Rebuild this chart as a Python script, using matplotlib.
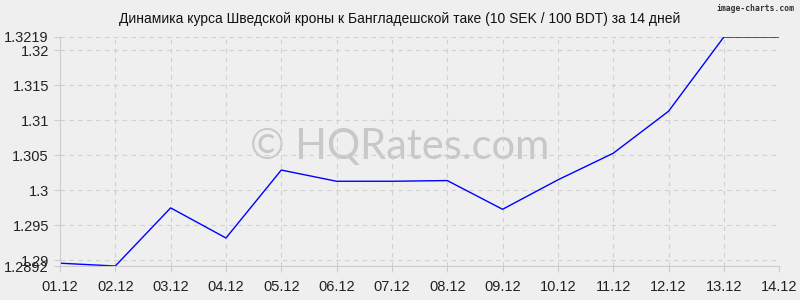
import matplotlib.pyplot as plt

# Data
dates = ['01.12', '02.12', '03.12', '04.12', '05.12', '06.12', '07.12',
         '08.12', '09.12', '10.12', '11.12', '12.12', '13.12', '14.12']
rates = [1.2896, 1.2892, 1.2975, 1.2932, 1.3029, 1.3013, 1.3013,
         1.3014, 1.2973, 1.3015, 1.3053, 1.3113, 1.3219, 1.3219]
ytick_vals = [1.2892, 1.29, 1.295, 1.3, 1.305, 1.31, 1.315, 1.32, 1.3219]
ytick_labels = ['1.2892', '1.29', '1.295', '1.3', '1.305', '1.31', '1.315', '1.32', '1.3219']

plt.rcParams['font.family'] = ['Liberation Sans', 'DejaVu Sans']
bg = '#efefef'

fig = plt.figure(figsize=(8, 3), dpi=100, facecolor=bg)
ax = fig.add_axes([0.075, 0.1133, 0.899, 0.7634], facecolor=bg)

x = list(range(len(dates)))
ax.plot(x, rates, color='#0000ff', linewidth=1)

ax.set_xlim(0, len(dates) - 1)
ax.set_ylim(min(ytick_vals), max(ytick_vals))
ax.set_xticks(x)
ax.set_xticklabels(dates, fontsize=10.5, color='#222222')
ax.set_yticks(ytick_vals)
ax.set_yticklabels(ytick_labels, fontsize=10.5, color='#222222')
ax.tick_params(length=4, color='#cccccc')
ax.tick_params(axis='x', pad=6)
ax.tick_params(axis='y', pad=4)

ax.grid(True, color='#d0d0d0', linestyle=(0, (4, 4)), linewidth=0.8)
for s in ['top', 'right']:
    ax.spines[s].set_visible(False)
for s in ['left', 'bottom']:
    ax.spines[s].set_color('#cccccc')
    ax.spines[s].set_linewidth(0.8)

fig.text(0.5, 0.935, 'Динамика курса Шведской кроны к Бангладешской таке (10 SEK / 100 BDT) за 14 дней',
         ha='center', va='center', fontsize=10, color='#111111')
fig.text(0.993, 0.972, 'image-charts.com', ha='right', va='center', fontsize=5.8,
         color='#333333', family='DejaVu Sans Mono', fontweight='bold')
ax.text(0.473, 0.52, '© HQRates.com', transform=ax.transAxes, ha='center', va='center',
        fontsize=30, color='#c8c8c8', family='Lato', zorder=0)

fig.savefig('out.png', dpi=100, facecolor=bg)
